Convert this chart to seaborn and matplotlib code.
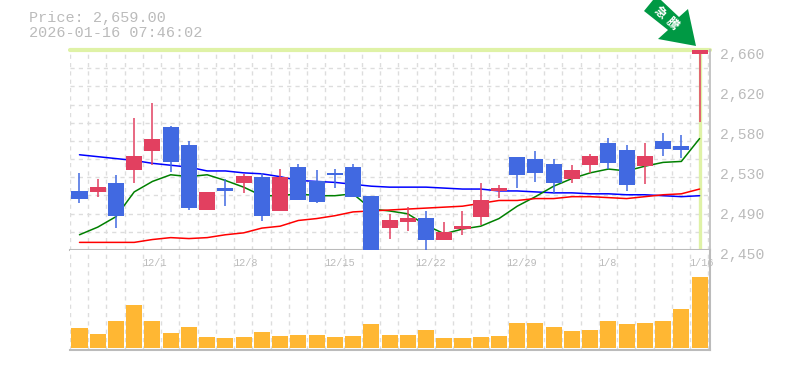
import matplotlib
matplotlib.use("Agg")
import matplotlib.pyplot as plt
from matplotlib.patches import Polygon
from matplotlib.transforms import ScaledTranslation
import numpy as np
import pandas as pd
import seaborn as sns

price_text = "Price: 2,659.00"
time_text = "2026-01-16 07:46:02"
y_labels = ["2,660", "2,620", "2,580", "2,530", "2,490", "2,450"]
y_ticks = [2660, 2618, 2576, 2534, 2492, 2450]
date_idx = [4, 9, 14, 19, 24, 29, 34]
date_labels = ["12/1", "12/8", "12/15", "12/22", "12/29", "1/8", "1/16"]

opens = [2512, 2511, 2520, 2534, 2554, 2579, 2560, 2492, 2515, 2520, 2527, 2491, 2537, 2522, 2531, 2537, 2507, 2473,
         2479, 2484, 2460, 2472, 2485, 2512, 2548, 2546, 2540, 2525, 2539, 2562, 2555, 2538, 2564, 2559, 2656]
closes = [2504, 2516, 2486, 2549, 2567, 2542, 2494, 2511, 2512, 2528, 2486, 2527, 2502, 2500, 2529, 2506, 2450, 2481,
          2484, 2460, 2469, 2475, 2502, 2515, 2529, 2531, 2520, 2534, 2549, 2541, 2518, 2549, 2556, 2555, 2660]
highs = [2531, 2525, 2529, 2589, 2604, 2580, 2564, 2511, 2525, 2530, 2531, 2535, 2540, 2534, 2535, 2540, 2507, 2488,
         2495, 2491, 2479, 2491, 2520, 2518, 2548, 2554, 2546, 2539, 2551, 2568, 2560, 2562, 2573, 2571, 2660]
lows = [2499, 2506, 2473, 2520, 2539, 2532, 2492, 2492, 2496, 2510, 2480, 2491, 2502, 2499, 2515, 2506, 2450, 2462,
        2470, 2450, 2460, 2466, 2476, 2505, 2515, 2521, 2509, 2520, 2531, 2535, 2512, 2519, 2549, 2547, 2584]
ma_blue = [2550, 2548, 2546, 2544, 2541, 2539, 2537, 2533, 2533, 2531, 2530, 2527, 2523, 2522, 2521, 2519, 2517, 2516,
           2516, 2516, 2515, 2514, 2514, 2512, 2512, 2511, 2510, 2510, 2509, 2509, 2508, 2508, 2507, 2506, 2507]
ma_green = [2466, 2474, 2485, 2511, 2522, 2529, 2527, 2529, 2523, 2516, 2507, 2507, 2509, 2507, 2507, 2509, 2493, 2491,
            2488, 2476, 2467, 2472, 2475, 2483, 2496, 2506, 2517, 2525, 2531, 2535, 2533, 2538, 2542, 2543, 2567]
ma_red = [2458, 2458, 2458, 2458, 2461, 2463, 2462, 2463, 2466, 2468, 2473, 2475, 2481, 2483, 2486, 2490, 2491, 2492,
          2493, 2494, 2495, 2496, 2499, 2502, 2502, 2504, 2504, 2506, 2506, 2505, 2504, 2506, 2508, 2509, 2514]
volume = [20, 14, 27, 43, 27, 15, 21, 11, 10, 11, 16, 12, 13, 13, 11, 12, 24, 13,
          13, 18, 10, 10, 11, 12, 25, 25, 21, 17, 18, 27, 24, 25, 27, 39, 71]
badge_glyphs = ["\u6025", "\u9a30"]

BLUE = "#4169e1"
RED = "#e24060"
GRID = "#dddddd"
AXIS = "#bbbbbb"
HILITE = "#dff2a6"
W, H = 785, 370

sns.set_style("white")
plt.rcParams["font.family"] = ["Liberation Mono", "Noto Sans CJK JP", "DejaVu Sans"]

fig = plt.figure(figsize=(W / 100, H / 100), dpi=100, facecolor="white")


def panel(y0, y1):
    return fig.add_axes([70 / W, 1 - y1 / H, 640 / W, (y1 - y0) / H])


ax = panel(50, 250)
axv = panel(250, 350)
xlim = (-0.52, 34.57)
idx = np.arange(len(closes))
frame = pd.DataFrame({"i": idx, "blue": ma_blue, "green": ma_green, "red": ma_red, "vol": volume})

dash = dict(color=GRID, lw=1, ls=(0, (3, 3)), zorder=0)
for a in (ax, axv):
    a.set_xlim(*xlim)
    a.set_facecolor("white")
    for k in np.arange(0, 36):
        a.axvline(k - 0.52, **dash)
    for s in a.spines.values():
        s.set_visible(False)

# price panel
ax.set_ylim(2450, 2660)
for k in range(1, 11):
    ax.axhline(2450 + k * 210 / 11, **dash)
ax.axvline(34, color=HILITE, lw=2.4, zorder=1)
ax.axhline(2660, color=HILITE, lw=3, zorder=1, clip_on=False)
for col, c in (("blue", "#0000ff"), ("green", "#008000"), ("red", "#ff0000")):
    sns.lineplot(data=frame, x="i", y=col, color=c, lw=1.1, ax=ax, zorder=2, legend=False)
for i, (o, c, h, l) in enumerate(zip(opens, closes, highs, lows)):
    col = RED if c >= o else BLUE
    ax.plot([i, i], [l, h], color=col, lw=1.1, zorder=3, solid_capstyle="butt")
    ax.bar(i, abs(c - o), bottom=min(o, c), width=0.88, color=col, lw=0, zorder=4)
ax.set_xlim(*xlim)
ax.set_ylim(2450, 2660)
ax.set_xlabel("")
ax.set_ylabel("")
ax.set_xticks([])
ax.yaxis.tick_right()
ax.set_yticks(y_ticks)
ax.set_yticklabels(y_labels, color=AXIS, fontsize=10.6)
ax.tick_params(axis="y", pad=7, length=0, left=False, right=False)
shift_down = ScaledTranslation(0, -3 / 100, fig.dpi_scale_trans)
for t in ax.get_yticklabels():
    t.set_transform(t.get_transform() + shift_down)
ax.spines["bottom"].set_visible(True)
ax.spines["bottom"].set_color(AXIS)
ax.spines["bottom"].set_linewidth(1.5)
ax.spines["right"].set_visible(True)
ax.spines["right"].set_color(AXIS)
ax.spines["right"].set_linewidth(1.2)

# volume panel
sns.barplot(data=frame, x="i", y="vol", native_scale=True, width=0.88, color="#ffb733", saturation=1,
            linewidth=0, ax=axv, zorder=3)
axv.set_xlim(*xlim)
axv.set_ylim(-2, 98)
axv.set_yticks([])
axv.set_xlabel("")
axv.set_ylabel("")
axv.xaxis.tick_top()
axv.set_xticks(date_idx)
axv.set_xticklabels(date_labels, color=AXIS, fontsize=7.4, ha="left")
axv.tick_params(axis="x", direction="in", pad=-13, length=0, top=False, bottom=False)
shift_left = ScaledTranslation(-10.5 / 100, 0, fig.dpi_scale_trans)
for t in axv.get_xticklabels():
    t.set_transform(t.get_transform() + shift_left)
    t.set_zorder(8)
for s in ("bottom", "right"):
    axv.spines[s].set_visible(True)
    axv.spines[s].set_color(AXIS)
    axv.spines[s].set_linewidth(1.5)

# header text
fig.text(29 / W, 1 - 18 / H, price_text, color=AXIS, fontsize=10.9, va="center", ha="left")
fig.text(29 / W, 1 - 33 / H, time_text, color=AXIS, fontsize=10.9, va="center", ha="left")


def px(x, y):
    return (x / W, 1 - y / H)


arrow = [(696, 46), (688, 9), (679, 17), (661, 0), (653, 0), (644, 11), (668, 30), (658, 39)]
fig.add_artist(Polygon([px(*p) for p in arrow], closed=True, transform=fig.transFigure, fc="#009944", ec="none", zorder=6))
for glyph, pos in zip(badge_glyphs, [(660, 13), (672, 24)]):
    fig.text(*px(*pos), glyph, color="white", fontsize=8.6, fontweight="bold", rotation=-42,
             rotation_mode="anchor", ha="center", va="center", family=["Noto Sans CJK JP"], zorder=7)

fig.savefig("out.png", dpi=100, facecolor="white")
